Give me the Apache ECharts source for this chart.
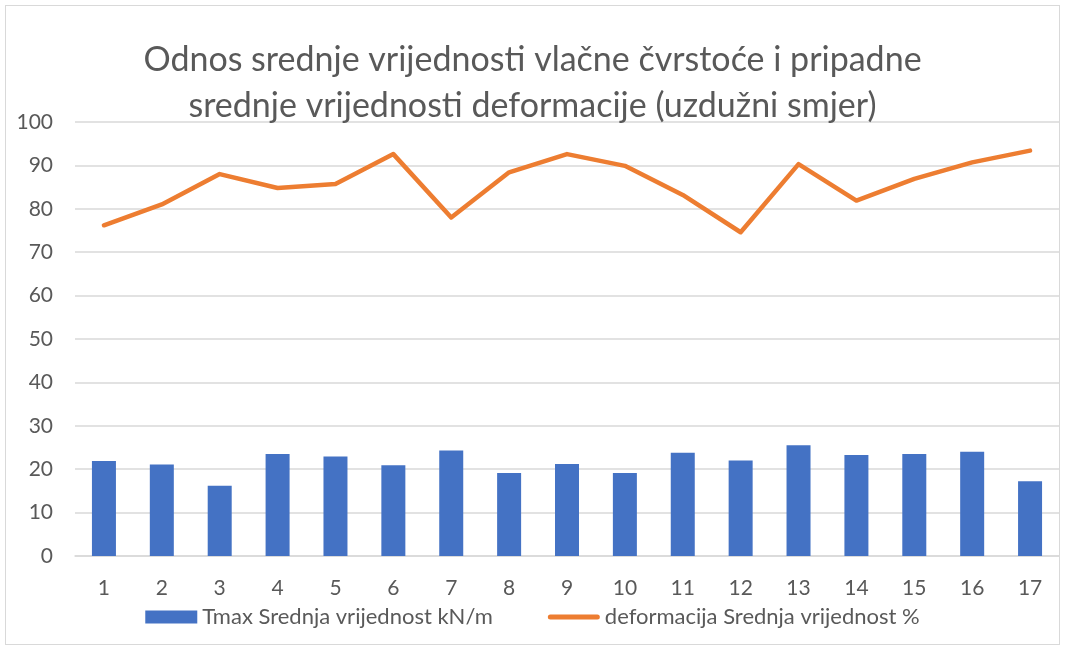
<!DOCTYPE html>
<html>
<head>
<meta charset="utf-8">
<script src="https://cdn.jsdelivr.net/npm/echarts@6/dist/echarts.min.js"></script>
<style>
  html, body { margin: 0; padding: 0; background: #fff; }
  #main { position: absolute; left: 5px; top: 5px; width: 1055px; height: 640px; border: 1px solid #d9d9d9; box-sizing: border-box; }
</style>
</head>
<body>
<div id="main"></div>
<script>
var categories = ['1','2','3','4','5','6','7','8','9','10','11','12','13','14','15','16','17'];
var tmax = [21.9, 21.1, 16.2, 23.5, 22.9, 20.9, 24.3, 19.1, 21.2, 19.1, 23.8, 22.0, 25.5, 23.3, 23.5, 24.0, 17.2];
var deformacija = [76.2, 81.0, 88.0, 84.8, 85.7, 92.6, 78.0, 88.4, 92.6, 89.9, 83.2, 74.6, 90.3, 81.9, 86.9, 90.7, 93.4];
var titleText = 'Odnos srednje vrijednosti vlačne čvrstoće i pripadne\nsrednje vrijednosti deformacije (uzdužni smjer)';
var barName = 'Tmax Srednja vrijednost kN/m';
var lineName = 'deformacija Srednja vrijednost %';

var myChart = echarts.init(document.getElementById('main'));
var font = 'Lato, "Open Sans", sans-serif';
var option = {
    animation: false,
    textStyle: { fontFamily: font },
    title: {
        text: titleText,
        left: 'center',
        top: 26,
        textStyle: { fontFamily: font, fontSize: 34, fontWeight: 'normal', color: '#595959', lineHeight: 46 }
    },
    legend: {
        bottom: 11,
        left: 'center',
        itemGap: 55,
        itemWidth: 52,
        itemHeight: 13,
        textStyle: { fontFamily: font, fontSize: 22, color: '#595959' },
        data: [
            { name: barName, icon: 'rect' },
            { name: lineName, icon: 'path://M2.5,0 L49.5,0 A2.5,2.5 0 0 1 49.5,5 L2.5,5 A2.5,2.5 0 0 1 2.5,0 Z' }
        ]
    },
    grid: { left: 69, right: 0, top: 116, bottom: 88, containLabel: false },
    xAxis: {
        type: 'category',
        data: categories,
        axisLine: { lineStyle: { color: '#d9d9d9', width: 1.5 } },
        axisTick: { show: false },
        axisLabel: { fontSize: 21, color: '#595959', margin: 22 }
    },
    yAxis: {
        type: 'value',
        min: 0,
        max: 100,
        interval: 10,
        axisLine: { show: false },
        axisTick: { show: false },
        splitLine: { lineStyle: { color: '#d9d9d9', width: 1.5 } },
        axisLabel: { fontSize: 21, color: '#595959', margin: 22 }
    },
    series: [
        {
            name: barName,
            type: 'bar',
            data: tmax,
            barWidth: 24,
            itemStyle: { color: '#4472C4' }
        },
        {
            name: lineName,
            type: 'line',
            data: deformacija,
            symbol: 'none',
            lineStyle: { color: '#ED7D31', width: 4.5, cap: 'round', join: 'round' },
            itemStyle: { color: '#ED7D31' }
        }
    ]
};
myChart.setOption(option);
</script>
</body>
</html>
